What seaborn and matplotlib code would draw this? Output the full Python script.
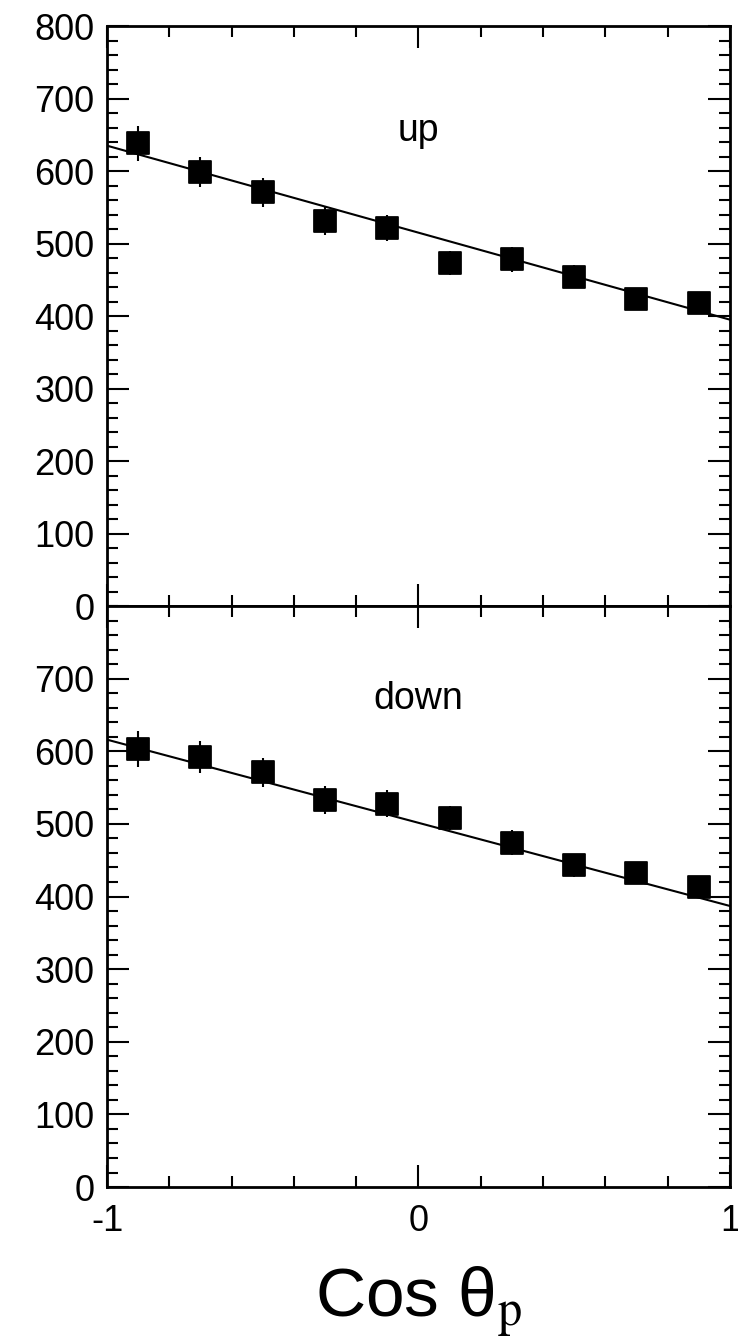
import numpy as np
import pandas as pd
import matplotlib
matplotlib.use("Agg")
import matplotlib.pyplot as plt
from matplotlib.ticker import MultipleLocator, FixedLocator
import seaborn as sns

# data
cos_theta = [-0.9, -0.7, -0.5, -0.3, -0.1, 0.1, 0.3, 0.5, 0.7, 0.9]
up_counts = [638, 599, 571, 531, 521, 473, 478, 454, 423, 418]
up_errors = [24, 21, 20, 19, 18, 17, 17, 16, 15, 15]
down_counts = [603, 592, 571, 533, 528, 508, 474, 443, 433, 413]
down_errors = [25, 22, 20, 19, 18, 17, 17, 16, 15, 15]
fit_x = [-1.0, 1.0]
up_fit = [635, 395]
down_fit = [616, 387]

sns.set_theme(style="ticks")
plt.rcParams["font.family"] = ["Liberation Sans", "DejaVu Sans"]
plt.rcParams["mathtext.fontset"] = "stix"
plt.rcParams["text.color"] = "black"

fig = plt.figure(figsize=(7.38, 13.36), dpi=100)
ax_up = fig.add_axes([0.145, 0.5464, 0.844, 0.4341])
ax_dn = fig.add_axes([0.145, 0.1115, 0.844, 0.4349], sharex=ax_up)


def draw_panel(ax, counts, errors, fit, label, label_y):
    df = pd.DataFrame({"x": cos_theta, "y": counts})
    fit_df = pd.DataFrame({"x": fit_x, "y": fit})
    sns.lineplot(data=fit_df, x="x", y="y", ax=ax, color="black", lw=1.5)
    ax.errorbar(cos_theta, counts, yerr=errors, fmt="none", ecolor="black",
                elinewidth=1.5, capsize=0)
    sns.scatterplot(data=df, x="x", y="y", ax=ax, marker="s", s=250,
                    color="black", edgecolor="black", zorder=3)
    ax.set_xlim(-1, 1)
    ax.set_ylim(0, 800)
    ax.set_xlabel("")
    ax.set_ylabel("")
    ax.yaxis.set_major_locator(MultipleLocator(100))
    ax.yaxis.set_minor_locator(MultipleLocator(20))
    ax.xaxis.set_major_locator(FixedLocator([-1, 0, 1]))
    ax.xaxis.set_minor_locator(MultipleLocator(0.2))
    ax.tick_params(which="both", direction="in", top=True, right=True,
                   width=1.5, labelsize=26, colors="black")
    ax.tick_params(which="major", length=16)
    ax.tick_params(which="minor", length=8)
    ax.tick_params(axis="y", pad=9)
    ax.tick_params(axis="x", pad=12)
    for sp in ax.spines.values():
        sp.set_linewidth(2)
        sp.set_color("black")
    ax.text(0.0, label_y, label, ha="center", va="center", fontsize=27,
            color="black")


draw_panel(ax_up, up_counts, up_errors, up_fit, "up", 655)
draw_panel(ax_dn, down_counts, down_errors, down_fit, "down", 672)

ax_up.tick_params(axis="x", labelbottom=False)
ax_dn.set_yticks([0, 100, 200, 300, 400, 500, 600, 700])
ax_dn.set_xticklabels(["-1", "0", "1"])
ax_dn.set_xlabel(r"Cos θ$_{\rm p}$", fontsize=50, labelpad=18, color="black")

fig.savefig("out.png", dpi=100)
plt.close(fig)
